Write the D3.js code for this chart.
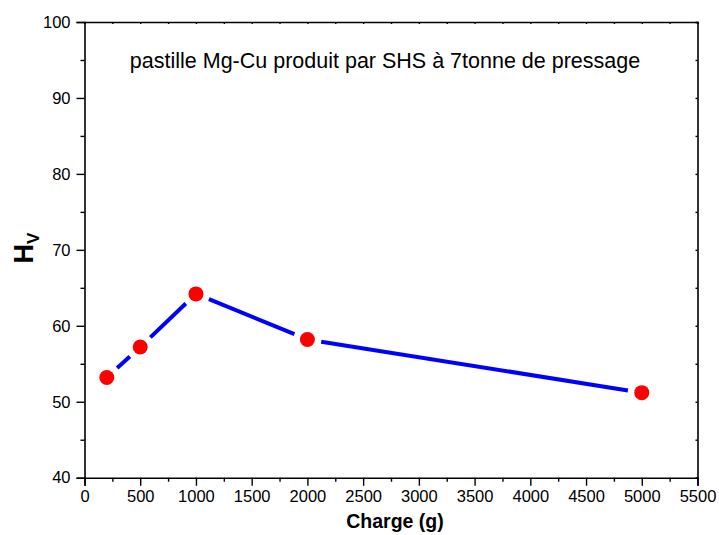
<!DOCTYPE html>
<html>
<head>
<meta charset="utf-8">
<script src="https://cdn.jsdelivr.net/npm/d3@7"></script>
<style>
  body { margin: 0; background: #fff; }
  svg text { font-family: Arial, "Liberation Sans", sans-serif; fill: #000; }
</style>
</head>
<body>
<div id="container"></div>
<script>
// Data
var charge = [200, 500, 1000, 2000, 5000];
var hv = [53.2, 57.2, 64.2, 58.2, 51.2];
var xTicks = [0, 500, 1000, 1500, 2000, 2500, 3000, 3500, 4000, 4500, 5000, 5500];
var yTicks = [40, 50, 60, 70, 80, 90, 100];
var title = "pastille Mg-Cu produit par SHS à 7tonne de pressage";

var width = 719, height = 535;
var margin = {left: 84.5, right: 21.5, top: 22, bottom: 57.3};

var svg = d3.select("div#container").append("svg")
  .attr("width", width)
  .attr("height", height);

var x = d3.scaleLinear().domain([0, 5500]).range([margin.left, width - margin.right]);
var y = d3.scaleLinear().domain([40, 100]).range([height - margin.bottom, margin.top]);

// minor ticks halfway between majors
var xMinor = d3.range(250, 5500, 500);
var yMinor = d3.range(45, 100, 10);

// bottom axis
var gx = svg.append("g").attr("transform", "translate(0," + y(40) + ")");
gx.call(d3.axisBottom(x).tickValues(xTicks).tickSize(8).tickPadding(5).tickFormat(d3.format("d")));
gx.append("g").call(d3.axisBottom(x).tickValues(xMinor).tickSize(4).tickFormat(""))
  .select(".domain").remove();

// left axis
var gy = svg.append("g").attr("transform", "translate(" + x(0) + ",0)");
gy.call(d3.axisLeft(y).tickValues(yTicks).tickSize(8).tickPadding(6).tickFormat(d3.format("d")));
gy.append("g").call(d3.axisLeft(y).tickValues(yMinor).tickSize(4).tickFormat(""))
  .select(".domain").remove();

// top and right: tiny inward ticks, no labels
svg.append("g").attr("transform", "translate(0," + y(100) + ")")
  .call(d3.axisTop(x).tickValues(xTicks.concat(xMinor)).tickSize(-2).tickFormat(""));
svg.append("g").attr("transform", "translate(" + x(5500) + ",0)")
  .call(d3.axisRight(y).tickValues(yTicks.concat(yMinor)).tickSize(-2).tickFormat(""));

svg.selectAll(".domain").attr("stroke", "#000").attr("stroke-width", 1.6);
svg.selectAll(".tick line").attr("stroke", "#000").attr("stroke-width", 1.4);
svg.selectAll(".tick text").style("font-size", "16.5px").style("font-family", "Arial, 'Liberation Sans', sans-serif");

// line segments with a gap around each symbol
var gap = 14;
var pts = charge.map(function(c, i) { return [x(c), y(hv[i])]; });
var segs = d3.pairs(pts).map(function(p) {
  var dx = p[1][0] - p[0][0], dy = p[1][1] - p[0][1];
  var len = Math.sqrt(dx * dx + dy * dy);
  var ux = dx / len, uy = dy / len;
  return [p[0][0] + ux * gap, p[0][1] + uy * gap, p[1][0] - ux * gap, p[1][1] - uy * gap];
});
svg.append("g").selectAll("line")
  .data(segs)
  .enter().append("line")
    .attr("x1", function(d) { return d[0]; })
    .attr("y1", function(d) { return d[1]; })
    .attr("x2", function(d) { return d[2]; })
    .attr("y2", function(d) { return d[3]; })
    .attr("stroke", "#0000ff")
    .attr("stroke-width", 4);

svg.append("g").selectAll("circle")
  .data(charge)
  .enter().append("circle")
    .attr("cx", function(d) { return x(d); })
    .attr("cy", function(d, i) { return y(hv[i]); })
    .attr("r", 7.5)
    .attr("fill", "#ff0000");

// title inside plot
svg.append("text")
  .attr("x", 385)
  .attr("y", 68)
  .attr("text-anchor", "middle")
  .style("font-size", "21.5px")
  .text(title);

// axis titles
svg.append("text")
  .attr("x", 395)
  .attr("y", 528)
  .attr("text-anchor", "middle")
  .style("font-size", "19.5px")
  .style("font-weight", "bold")
  .text("Charge (g)");

var yl = svg.append("text")
  .attr("transform", "translate(33,248) rotate(-90)")
  .attr("text-anchor", "middle")
  .style("font-weight", "bold");
yl.append("tspan").style("font-size", "27px").text("H");
yl.append("tspan").style("font-size", "17px").attr("dy", 6).text("V");
</script>
</body>
</html>
